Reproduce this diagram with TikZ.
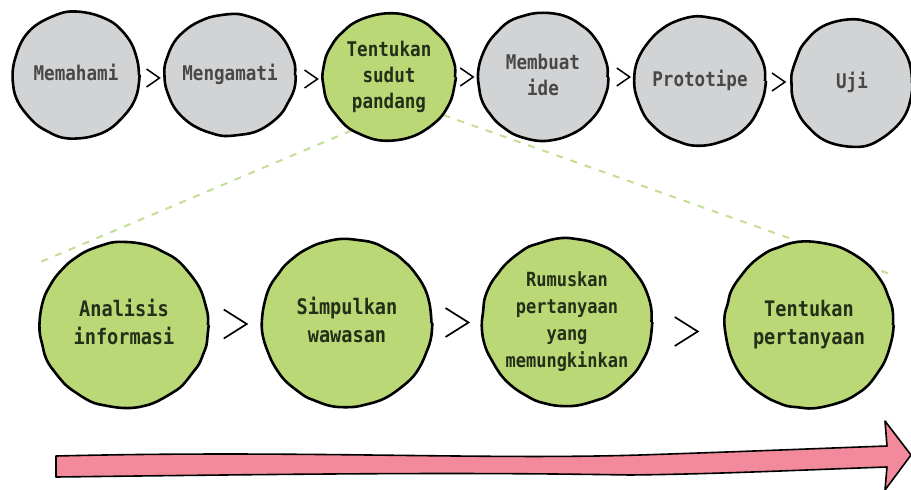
\documentclass[tikz,border=0pt]{standalone}
\usepackage{fontspec}
\setmonofont{DejaVu Sans Mono}
\usetikzlibrary{shapes.geometric,calc,decorations.pathmorphing,backgrounds}

\definecolor{stepgray}{RGB}{209,211,212}
\definecolor{stepgreen}{RGB}{186,216,118}
\definecolor{flowpink}{RGB}{243,138,155}
\definecolor{zoomgreen}{RGB}{196,222,148}
\definecolor{graytext}{RGB}{72,72,72}
\definecolor{greentext}{RGB}{36,46,24}

% tall, centred stack of lines
\newcommand\stagetext[1]{\scalebox{1}[1.15]{\begin{tabular}{@{}c@{}}#1\end{tabular}}}

\tikzset{
  blob/.style={ellipse, draw=black, line width=2.6pt, inner sep=0pt,
    decorate, decoration={random steps, segment length=10pt, amplitude=0.7pt},
    rounded corners=4pt},
  gray step/.style={blob, fill=stepgray},
  green step/.style={blob, fill=stepgreen},
  small label/.style={font=\ttfamily\bfseries\fontsize{17.6}{22.6}\selectfont},
  gray label/.style={small label, text=graytext},
  green label/.style={small label, text=greentext},
  big label/.style={font=\ttfamily\bfseries\fontsize{18.6}{24.3}\selectfont, text=greentext},
  long label/.style={font=\ttfamily\bfseries\fontsize{17}{23.5}\selectfont, text=greentext},
  zoomline/.style={draw=zoomgreen, line width=2pt, dash pattern=on 7pt off 8pt},
  chevron/.pic={\draw[line width=1.5pt, line join=miter] (-6.5,-9) -- (6.5,0) -- (-6.5,9);},
  big chevron/.pic={\draw[line width=1.7pt, line join=miter] (-11.5,-14.5) -- (11.5,0) -- (-11.5,14.5);},
  flowarrow/.style={fill=flowpink, draw=black, line width=1.6pt, line join=round}
}

\begin{document}
\begin{tikzpicture}[x=1pt,y=-1pt]
\useasboundingbox (0,0) rectangle (911,490);

% design thinking stages
\node[gray step, minimum width=126pt, minimum height=126pt,
  label={[gray label]center:\stagetext{Memahami}}] (m1) at (76,75) {};
\node[gray step, minimum width=130pt, minimum height=121pt,
  label={[gray label]center:\stagetext{Mengamati}}] (m2) at (230,75) {};
\node[green step, minimum width=132pt, minimum height=126pt,
  label={[green label]center:\stagetext{Tentukan\\sudut\\pandang}}] (m3) at (389,77) {};
\node[gray step, minimum width=129pt, minimum height=127pt,
  label={[gray label]center:\stagetext{Membuat\\ide}}] (m4) at (543,77) {};
\node[gray step, minimum width=130pt, minimum height=128pt,
  label={[gray label]center:\stagetext{Prototipe}}] (m5) at (700,81) {};
\node[gray step, minimum width=120pt, minimum height=127pt,
  label={[gray label]center:\stagetext{Uji}}] (m6) at (852,83) {};

% steps inside "Tentukan sudut pandang"
\node[green step, minimum width=168pt, minimum height=165pt,
  label={[big label]center:\stagetext{Analisis\\informasi}}] (b1) at (124,325) {};
\node[green step, minimum width=169pt, minimum height=167pt,
  label={[big label]center:\stagetext{Simpulkan\\wawasan}}] (b2) at (347,323) {};
\node[green step, minimum width=169pt, minimum height=167pt,
  label={[long label]center:\stagetext{Rumuskan\\pertanyaan\\yang\\memungkinkan}}] (b3) at (567,322) {};
\node[green step, minimum width=168pt, minimum height=166pt,
  label={[big label]center:\stagetext{Tentukan\\pertanyaan}}] (b4) at (809,325) {};

% chevrons between stages
\path ($(m1.east)!.5!(m2.west)+(1,3)$) pic{chevron};
\path ($(m2.east)!.5!(m3.west)+(2,3)$) pic{chevron};
\path ($(m3.east)!.5!(m4.west)$) pic{chevron};
\path ($(m4.east)!.5!(m5.west)+(2,-2)$) pic{chevron};
\path ($(m5.east)!.5!(m6.west)$) pic{chevron};
\path ($(b1.east)!.5!(b2.west)$) pic{big chevron};
\path ($(b2.east)!.5!(b3.west)$) pic{big chevron};
\path ($(b3.east)!.5!(b4.west)+(-2,8)$) pic{big chevron};

% zoom lines from the selected stage
\coordinate (zl) at (38,263);
\coordinate (zr) at (890,274);
\begin{pgfonlayer}{background}
  \draw[zoomline] (m3.235) -- (zl);
  \draw[zoomline] (m3.325) -- (zr);
\end{pgfonlayer}

% direction arrow
\draw[flowarrow]
  (56,456) .. controls (300,450) and (480,460) .. (640,455)
  .. controls (760,451) and (830,448) .. (887,446)
  -- (885,421) -- (911,455) -- (885,490) -- (887,467)
  .. controls (800,470) and (720,474) .. (630,475)
  .. controls (450,472) and (300,474) .. (56,477) -- cycle;
\end{tikzpicture}
\end{document}
